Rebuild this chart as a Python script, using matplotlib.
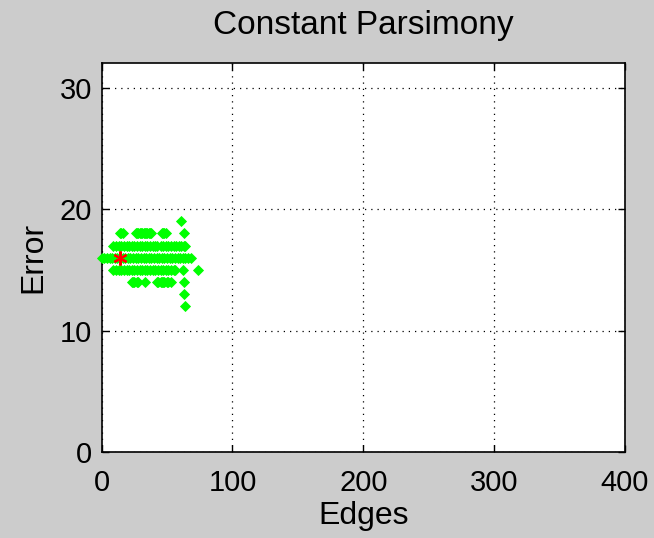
import numpy as np
import matplotlib.pyplot as plt

# pontos (arestas, erro), agrupados por nivel de erro
err19 = [61]
err18 = [14, 15, 16, 26, 27, 28, 29, 30, 31, 32, 33, 34, 35, 36, 37, 38,
         46, 47, 48, 49, 63]
err17 = [9, 11, 13, 15, 17, 19, 21, 23, 25, 27, 29, 31, 33, 35, 37, 39, 41,
         42, 45, 47, 49, 51, 53, 55, 57, 59, 61, 63, 64]
err16 = [0, 2, 4, 6, 8, 10, 12, 14, 16, 18, 20, 22, 24, 26, 28, 30, 32, 34,
         36, 38, 40, 42, 44, 46, 48, 50, 52, 54, 56, 58, 60, 62, 64, 66, 68]
err15 = [9, 11, 13, 15, 17, 19, 21, 23, 25, 27, 29, 31, 33, 35, 37, 39, 41,
         43, 45, 47, 49, 51, 53, 55, 56, 62, 74]
err14 = [23, 24, 25, 27, 28, 33, 42, 43, 45, 46, 47, 48, 50, 51, 53, 63]
err13 = [63]
err12 = [64]

best_edges = [14]
best_error = [16]

rows = {19: err19, 18: err18, 17: err17, 16: err16,
        15: err15, 14: err14, 13: err13, 12: err12}
edges = np.concatenate([np.array(v, float) for v in rows.values()])
error = np.concatenate([np.full(len(v), k, float) for k, v in rows.items()])

plt.rcParams['font.family'] = ['Liberation Sans', 'DejaVu Sans']

fig = plt.figure(figsize=(6.54, 5.38), dpi=100, facecolor='#cccccc')
ax = fig.add_axes([0.1555, 0.1593, 0.800, 0.723])
ax.set_facecolor('white')

ax.plot(edges, error, linestyle='none', marker='D', markersize=4.9,
        color='#00ff00', markeredgecolor='#00ff00', markeredgewidth=0.6,
        clip_on=False, zorder=3)
ax.plot(best_edges, best_error, linestyle='none', marker=(6, 2, 0),
        markersize=10, color='red', markeredgewidth=1.6, zorder=4)

ax.set_xlim(0, 400)
ax.set_ylim(0, 32)
ax.set_xticks([0, 100, 200, 300, 400])
ax.set_yticks([0, 10, 20, 30])
ax.grid(True, color='black', linestyle=(0, (1, 4)), linewidth=0.9)
ax.tick_params(direction='in', length=5, width=1, labelsize=21,
               top=True, right=True)
ax.tick_params(axis='x', pad=12)
ax.tick_params(axis='y', pad=7)
for s in ax.spines.values():
    s.set_linewidth(1.2)

ax.set_title('Constant Parsimony', fontsize=24, pad=21)
ax.set_xlabel('Edges', fontsize=23, labelpad=3)
ax.set_ylabel('Error', fontsize=23, labelpad=8)

fig.savefig('out.png', dpi=100, facecolor=fig.get_facecolor())
